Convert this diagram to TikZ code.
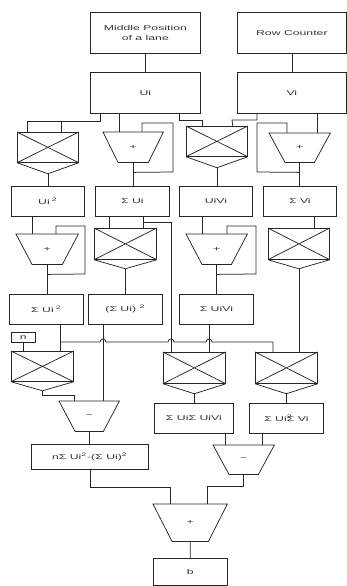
\documentclass[tikz,border=0pt]{standalone}
\usepackage{fontspec}
\setmainfont{Liberation Sans}
\usepackage{graphicx}
\usetikzlibrary{calc}
\newcommand\lbl[1]{\scalebox{1.75}[1]{#1}}
\newcommand\drawmult[2]{\draw[ln] (#1.north west) -- (#1.south east) (#1.north east) -- (#1.south west) (#1.south west) -- ([yshift=-#2pt]#1.south) coordinate (#1-out) -- (#1.south east);}
\newcommand\drawtrap[2]{\draw[ln] (#1.north west) -- (#1.north east) -- ([xshift=-#2pt]#1.south east) -- ([xshift=#2pt]#1.south west) -- cycle;}
\begin{document}
\begin{tikzpicture}[x=1pt,y=-1pt,
  ln/.style={line width=0.75pt, draw=black!85, line join=miter},
  box/.style={draw=black!85, line width=0.75pt, rectangle, inner sep=0pt, anchor=north west, font=\fontsize{7}{10}\selectfont, text=black!80, align=center},
  op/.style={rectangle, inner sep=0pt, anchor=north west, font=\fontsize{7}{10}\selectfont, text=black!80}]
\useasboundingbox (0,0) rectangle (347,586);
% row 1 and 2
\node[box, minimum width=110, minimum height=41] (mid) at (90,12) {\lbl{Middle Position}\\\lbl{of a lane}};
\node[box, minimum width=109, minimum height=41] (row) at (237,12) {\lbl{Row Counter}};
\node[box, minimum width=110, minimum height=41] (ui) at (90,72) {\lbl{Ui}};
\node[box, minimum width=109, minimum height=41] (vi) at (237,72) {\lbl{Vi}};
% row 3
\node[box, minimum width=61, minimum height=30] (m1) at (17,132) {}; \drawmult{m1}{11}
\node[op, minimum width=60, minimum height=30] (a1) at (103,132) {\lbl{+}}; \drawtrap{a1}{15}
\node[box, minimum width=61, minimum height=30] (m2) at (186,126) {}; \drawmult{m2}{11}
\node[op, minimum width=61, minimum height=29] (a2) at (269,133) {\lbl{+}}; \drawtrap{a2}{16}
% row 4
\node[box, minimum width=73, minimum height=30] (bu2) at (11,186) {\lbl{Ui\,\textsuperscript{2}}};
\node[box, minimum width=74, minimum height=30] (bsu) at (95,186) {\lbl{Σ Ui}};
\node[box, minimum width=73, minimum height=30] (buv) at (179,186) {\lbl{UiVi}};
\node[box, minimum width=73, minimum height=30] (bsv) at (263,186) {\lbl{Σ Vi}};
% row 5
\node[op, minimum width=62, minimum height=30] (a3) at (16,234) {\lbl{+}}; \drawtrap{a3}{16}
\node[box, minimum width=62, minimum height=31] (m3) at (94,228) {}; \drawmult{m3}{9}
\node[op, minimum width=61, minimum height=30] (a4) at (186,234) {\lbl{+}}; \drawtrap{a4}{16}
\node[box, minimum width=61, minimum height=31] (m4) at (268,228) {}; \drawmult{m4}{9}
% row 6
\node[box, minimum width=74, minimum height=30] (bsu2) at (9,294) {\lbl{Σ Ui\,\textsuperscript{2}}};
\node[box, minimum width=74, minimum height=30] (bsuq) at (88,294) {\lbl{(Σ Ui) \textsuperscript{2}}};
\node[box, minimum width=74, minimum height=30] (bsuv) at (179,294) {\lbl{Σ UiVi}};
% row 7
\node[box, minimum width=24, minimum height=10] (nb) at (11,332) {\lbl{n}};
\node[box, minimum width=62, minimum height=30] (m5) at (11,351) {}; \drawmult{m5}{9}
\node[box, minimum width=62, minimum height=31] (m6) at (163,352) {}; \drawmult{m6}{10}
\node[box, minimum width=62, minimum height=31] (m7) at (255,352) {}; \drawmult{m7}{10}
\node[op, minimum width=60, minimum height=30] (s1) at (59,401) {\lbl{−}}; \drawtrap{s1}{16}
\node[box, minimum width=79, minimum height=30] (bp1) at (154,403) {\lbl{Σ UiΣ UiVi}};
\node[box, minimum width=74, minimum height=30] (bp2) at (249,403) {\lbl{Σ Ui\rlap{\textsuperscript{2}}Σ Vi}};
\node[box, minimum width=117, minimum height=25] (bn) at (31,444) {\lbl{nΣ Ui\textsuperscript{2}-(Σ Ui)\textsuperscript{2}}};
\node[op, minimum width=61, minimum height=29] (s2) at (213,445) {\lbl{−}}; \drawtrap{s2}{16}
\node[op, minimum width=74, minimum height=37] (fa) at (153,504) {\lbl{+}}; \drawtrap{fa}{19}
\node[box, minimum width=74, minimum height=27] (bb) at (153,558) {\lbl{b}};
% connectors
\draw[ln] (mid.south) -- (ui.north);
\draw[ln] (row.south) -- (vi.north);
\draw[ln] ([xshift=10pt]ui.south west) |- (27,121) -- ([xshift=10pt]m1.north west);
\draw[ln] (61,121) -- ([xshift=44pt]m1.north west);
\draw[ln] ([xshift=29pt]ui.south west) -- ([xshift=16pt]a1.north west);
\draw[ln] ([xshift=89pt]ui.south west) |- (202,120) -- ([xshift=16pt]m2.north west);
\draw[ln] ([xshift=20pt]vi.south west) |- (232,120) -- ([xshift=-15pt]m2.north east);
\draw[ln] ([xshift=80pt]vi.south west) -- ([xshift=48pt]a2.north west);
\draw[ln] (a1.south) -- (a1.south |- bsu.north);
\draw[ln] ($(a1.south)+(0,10)$) -- (173,172) -- (173,123) -- (142,123) -- ([xshift=39pt]a1.north west);
\draw[ln] (m1-out) -- (m1-out |- bu2.north);
\draw[ln] (m2-out) -- (m2-out |- buv.north);
\draw[ln] (a2.south) -- (a2.south |- bsv.north);
\draw[ln] ($(a2.south)+(0,10)$) -- (257,172) -- (257,123) -- (287,123) -- ([xshift=18pt]a2.north west);
\draw[ln] ([xshift=21pt]bu2.south west) -- ([xshift=16pt]a3.north west);
\draw[ln] (a3.south) -- (a3.south |- bsu2.north);
\draw[ln] ($(a3.south)+(0,10)$) -- (85,274) -- (85,226) -- (56,226) -- ([xshift=40pt]a3.north west);
\draw[ln] ([xshift=14pt]bsu.south west) -- ([xshift=15pt]m3.north west);
\draw[ln] ([xshift=48pt]bsu.south west) -- ([xshift=49pt]m3.north west);
\draw[ln] (143,222) -- (171,222) -- ([xshift=8pt]m6.north west);
\draw[ln] (m3-out) -- (m3-out |- bsuq.north);
\draw[ln] ([xshift=23pt]buv.south west) -- ([xshift=16pt]a4.north west);
\draw[ln] (a4.south) -- (a4.south |- bsuv.north);
\draw[ln] ($(a4.south)+(0,10)$) -- (256,274) -- (256,226) -- (227,226) -- ([xshift=41pt]a4.north west);
\draw[ln] ([xshift=51pt]bsv.south west) -- ([xshift=46pt]m4.north west);
\draw[ln] (m4-out) -- (m4-out |- m7.north);
\draw[ln] ([xshift=51pt]bsu2.south west) -- ([xshift=49pt]m5.north west);
\draw[ln] (nb.south) -- (nb.south |- m5.north);
\draw[ln] (60,342) -- (100,342) arc[start angle=180, end angle=0, radius=3pt]
  -- (168,342) arc[start angle=180, end angle=0, radius=3pt]
  -- (206,342) arc[start angle=180, end angle=0, radius=3pt]
  -- (273,342) -- ([xshift=18pt]m7.north west);
\draw[ln] ([xshift=15pt]bsuq.south west) -- ([xshift=44pt]s1.north west);
\draw[ln] ([xshift=30pt]bsuv.south west) -- ([xshift=46pt]m6.north west);
\draw[ln] (m5-out) -- ++(0,5) -| ([xshift=15pt]s1.north west);
\draw[ln] (s1.south) -- (s1.south |- bn.north);
\draw[ln] (m6-out) -- (m6-out |- bp1.north);
\draw[ln] (m7-out) -- (m7-out |- bp2.north);
\draw[ln] ([xshift=71pt]bp1.south west) -- ([xshift=12pt]s2.north west);
\draw[ln] ([xshift=13pt]bp2.south west) -- ([xshift=49pt]s2.north west);
\draw[ln] (s2.south) -- ++(0,12) -| ([xshift=54pt]fa.north west);
\draw[ln] (bn.south) -- ++(0,18) -| ([xshift=17pt]fa.north west);
\draw[ln] (fa.south) -- (bb.north);
\end{tikzpicture}
\end{document}
